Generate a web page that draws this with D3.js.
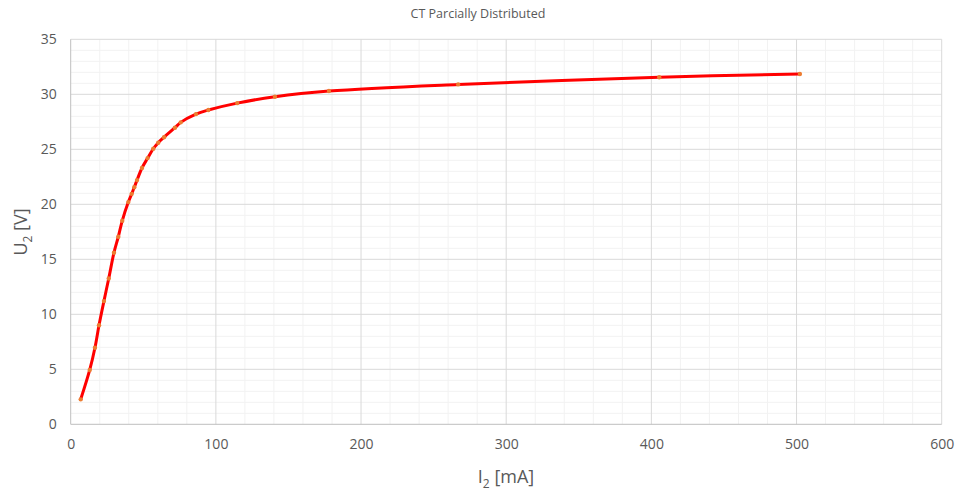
<!DOCTYPE html>
<html><head><meta charset="utf-8">
<script src="https://cdn.jsdelivr.net/npm/d3@7"></script>
<style>body{margin:0;background:#fff;} text{font-family:"Open Sans","Liberation Sans",sans-serif;fill:#595959;}</style>
</head><body>
<svg id="c" width="958" height="491"></svg>
<script>
const title = "CT Parcially Distributed";
const xTicks = [0,100,200,300,400,500,600];
const yTicks = [0,5,10,15,20,25,30,35];
const currentMA = [6.9,13.1,16.7,19.5,22.9,26.2,29.8,32.8,35.5,39.7,42.0,43.8,45.7,49.1,53,56.9,60.3,64.3,71.8,75.8,86.3,94.8,114.7,140.7,177.9,266.9,405.4,502.3];
const voltageV = [2.27,4.94,6.96,9.0,11.2,13.25,15.6,17.05,18.5,20.2,20.95,21.55,22.2,23.3,24.2,25.05,25.6,26.1,26.96,27.45,28.2,28.57,29.2,29.78,30.3,30.9,31.55,31.85];

const svg = d3.select("#c");
const L=70.7, R=941.7, T=39.3, B=424.3;
const x = d3.scaleLinear().domain([0,600]).range([L,R]);
const y = d3.scaleLinear().domain([0,35]).range([B,T]);
const g = svg.append("g");
g.selectAll(".mx").data(d3.range(0,601,20).filter(v=>v%100)).enter().append("line")
 .attr("x1",d=>x(d)).attr("x2",d=>x(d)).attr("y1",T).attr("y2",B).attr("stroke","#f2f2f2").attr("stroke-width",1);
g.selectAll(".my").data(d3.range(0,36,1).filter(v=>v%5)).enter().append("line")
 .attr("y1",d=>y(d)).attr("y2",d=>y(d)).attr("x1",L).attr("x2",R).attr("stroke","#f2f2f2").attr("stroke-width",1);
g.selectAll(".Mx").data(xTicks.slice(1)).enter().append("line")
 .attr("x1",d=>x(d)).attr("x2",d=>x(d)).attr("y1",T).attr("y2",B).attr("stroke","#d9d9d9").attr("stroke-width",1);
g.selectAll(".My").data(yTicks.slice(1)).enter().append("line")
 .attr("y1",d=>y(d)).attr("y2",d=>y(d)).attr("x1",L).attr("x2",R).attr("stroke","#d9d9d9").attr("stroke-width",1);
g.append("line").attr("x1",L).attr("x2",R).attr("y1",B).attr("y2",B).attr("stroke","#bfbfbf");
g.append("line").attr("x1",L).attr("x2",L).attr("y1",T).attr("y2",B).attr("stroke","#bfbfbf");

const xa = svg.append("g").attr("transform",`translate(0,${B})`)
 .call(d3.axisBottom(x).tickValues(xTicks).tickSize(0).tickPadding(15));
xa.select(".domain").remove();
xa.selectAll("text").style("font-size","14px").attr("fill","#595959");
const ya = svg.append("g").attr("transform",`translate(${L},0)`)
 .call(d3.axisLeft(y).tickValues(yTicks).tickSize(0).tickPadding(14));
ya.select(".domain").remove();
ya.selectAll("text").style("font-size","14px").attr("fill","#595959");

const data = currentMA.map((v,i)=>({x:v,y:voltageV[i]}));
svg.append("path").datum(data)
 .attr("d", d3.line().x(d=>x(d.x)).y(d=>y(d.y)).curve(d3.curveCatmullRom.alpha(0.5)))
 .attr("fill","none").attr("stroke","#ff0000").attr("stroke-width",3).attr("stroke-linecap","round");
svg.selectAll(".pt").data(data).enter().append("circle")
 .attr("cx",d=>x(d.x)).attr("cy",d=>y(d.y)).attr("r",2.2).attr("fill","#ed7d31");

svg.append("text").attr("x",478).attr("y",18).attr("text-anchor","middle").style("font-size","12.5px").text(title);
const xt = svg.append("text").attr("x",506).attr("y",483).attr("text-anchor","middle").style("font-size","18px");
xt.append("tspan").text("I");
xt.append("tspan").attr("dy",5).style("font-size","12px").text("2");
xt.append("tspan").attr("dy",-5).text(" [mA]");
const yt = svg.append("text").attr("transform","translate(27,232) rotate(-90)").attr("text-anchor","middle").style("font-size","18px");
yt.append("tspan").text("U");
yt.append("tspan").attr("dy",5).style("font-size","12px").text("2");
yt.append("tspan").attr("dy",-5).text(" [V]");
</script>
</body></html>
